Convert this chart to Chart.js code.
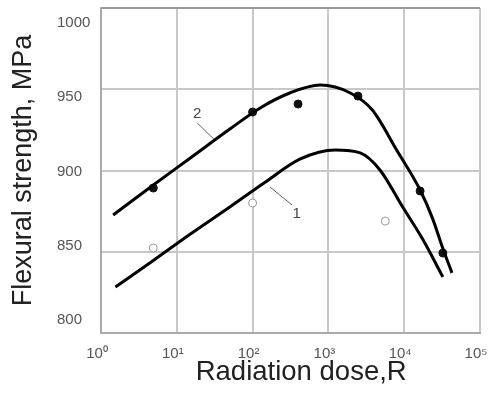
<!DOCTYPE html>
<html>
<head>
<meta charset="utf-8">
<script src="https://cdn.jsdelivr.net/npm/chart.js@4.4.0/dist/chart.umd.min.js"></script>
<style>
  html, body { margin: 0; padding: 0; background: #fff; }
  #wrap { width: 491px; height: 395px; }
</style>
</head>
<body>
<div id="wrap"><canvas id="chart" width="491" height="395"></canvas></div>
<script>
// x values are log10 of the dose (R)
const xTickLabels = ['10\u2070', '10\u00b9', '10\u00b2', '10\u00b3', '10\u2074', '10\u2075'];
const yTickValues = [800, 850, 900, 950, 1000];

// curve 2 (upper) and curve 1 (lower)
const curve2X = [0.16, 0.65, 1.17, 1.7, 2.1, 2.49, 2.89, 3.29, 3.58, 3.9, 4.21, 4.37, 4.51, 4.63];
const curve2Y = [872.6, 889.7, 907.4, 925.5, 938.5, 947.7, 952.6, 947.7, 937.2, 912.6, 888.0, 871.0, 852.0, 837.0];
const curve1X = [0.19, 0.69, 1.17, 1.68, 2.16, 2.63, 3.09, 3.42, 3.68, 3.98, 4.25, 4.51];
const curve1Y = [828.3, 844.6, 860.6, 876.9, 892.6, 907.1, 912.6, 910.8, 900.3, 877.5, 857.2, 834.5];

// measured points
const filledX = [0.69, 2.0, 2.6, 3.39, 4.21, 4.51];
const filledY = [889.2, 936.0, 940.9, 945.8, 887.4, 849.2];
const openX = [0.69, 2.0, 3.75];
const openY = [852.3, 880.0, 868.9];

// curve numbers with their leader lines
const curveNames = ['1', '2'];
const nameX = [2.58, 1.27];
const nameY = [873.5, 935.0];
const leader1X = [2.23, 2.52];
const leader1Y = [889.8, 878.8];
const leader2X = [1.27, 1.5];
const leader2Y = [929.2, 918.8];

const FONT = "'Liberation Sans', Arial, sans-serif";
const toPts = (xs, ys) => xs.map((x, i) => ({ x: x, y: ys[i] }));

const curveNamePlugin = {
    id: 'curveNames',
    afterDatasetsDraw(chart) {
        const ctx = chart.ctx;
        const sx = chart.scales.x, sy = chart.scales.y;
        ctx.save();
        ctx.fillStyle = '#444';
        ctx.font = '15px ' + FONT;
        ctx.textAlign = 'center';
        ctx.textBaseline = 'middle';
        curveNames.forEach((t, i) => {
            ctx.fillText(t, sx.getPixelForValue(nameX[i]), sy.getPixelForValue(nameY[i]));
        });
        ctx.restore();
    }
};

const noPad = (axis) => {
    axis.paddingLeft = 0;
    axis.paddingRight = 0;
    axis.paddingTop = 0;
    axis.paddingBottom = 0;
};

const curveStyle = {
    type: 'line',
    borderColor: '#000',
    borderWidth: 3,
    pointRadius: 0,
    cubicInterpolationMode: 'monotone'
};

new Chart(document.getElementById('chart'), {
    type: 'scatter',
    data: {
        datasets: [
            Object.assign({ data: toPts(curve2X, curve2Y) }, curveStyle),
            Object.assign({ data: toPts(curve1X, curve1Y) }, curveStyle),
            {
                data: toPts(filledX, filledY),
                backgroundColor: '#111',
                borderColor: '#111',
                pointRadius: 4
            },
            {
                data: toPts(openX, openY),
                backgroundColor: '#fff',
                borderColor: '#999',
                borderWidth: 1,
                pointRadius: 4
            },
            {
                type: 'line',
                data: toPts(leader1X, leader1Y),
                borderColor: '#666',
                borderWidth: 1,
                pointRadius: 0
            },
            {
                type: 'line',
                data: toPts(leader2X, leader2Y),
                borderColor: '#666',
                borderWidth: 1,
                pointRadius: 0
            }
        ]
    },
    options: {
        responsive: false,
        animation: false,
        layout: { padding: { top: 8, right: 11, left: 0, bottom: 0 } },
        plugins: {
            legend: { display: false },
            tooltip: { enabled: false }
        },
        scales: {
            x: {
                type: 'linear',
                min: 0,
                max: 5,
                afterFit: (axis) => { axis.height = 62; noPad(axis); },
                ticks: {
                    stepSize: 1,
                    padding: 12,
                    labelOffset: -4,
                    color: '#555',
                    font: { family: FONT, size: 15 },
                    callback: (v) => xTickLabels[v]
                },
                grid: { color: '#c8c8c8', lineWidth: 2, drawTicks: false },
                border: { color: '#aaa', width: 2 },
                title: {
                    display: true,
                    text: '\u2002 Radiation dose,R',
                    color: '#222',
                    font: { family: FONT, size: 27.5 },
                    padding: { top: 0, bottom: 6 }
                }
            },
            y: {
                min: 800,
                max: 1000,
                weight: 0,
                afterFit: (axis) => { axis.width = 0; noPad(axis); },
                ticks: { stepSize: 50, display: false },
                grid: {
                    color: (c) => c.tick && c.tick.value === 1000 ? '#999' : '#c8c8c8',
                    lineWidth: 2,
                    drawTicks: false
                },
                border: { color: '#aaa', width: 2 }
            },
            yl: {
                type: 'linear',
                position: 'left',
                weight: 1,
                min: 791.25,
                max: 1010.1,
                afterBuildTicks: (axis) => { axis.ticks = yTickValues.map(v => ({ value: v })); },
                afterFit: (axis) => { axis.width = 44; noPad(axis); },
                ticks: {
                    crossAlign: 'far',
                    color: '#555',
                    font: { family: FONT, size: 15 },
                    callback: (v) => String(v)
                },
                grid: { display: false },
                border: { display: false }
            },
            yt: {
                type: 'linear',
                position: 'left',
                weight: 2,
                min: 0,
                max: 1,
                afterFit: (axis) => { axis.width = 57; noPad(axis); },
                ticks: { display: false },
                grid: { display: false },
                border: { display: false },
                title: {
                    display: true,
                    text: 'Flexural strength, MPa',
                    color: '#222',
                    font: { family: FONT, size: 27 },
                    padding: { top: 7, bottom: 0 }
                }
            }
        }
    },
    plugins: [curveNamePlugin]
});
</script>
</body>
</html>
